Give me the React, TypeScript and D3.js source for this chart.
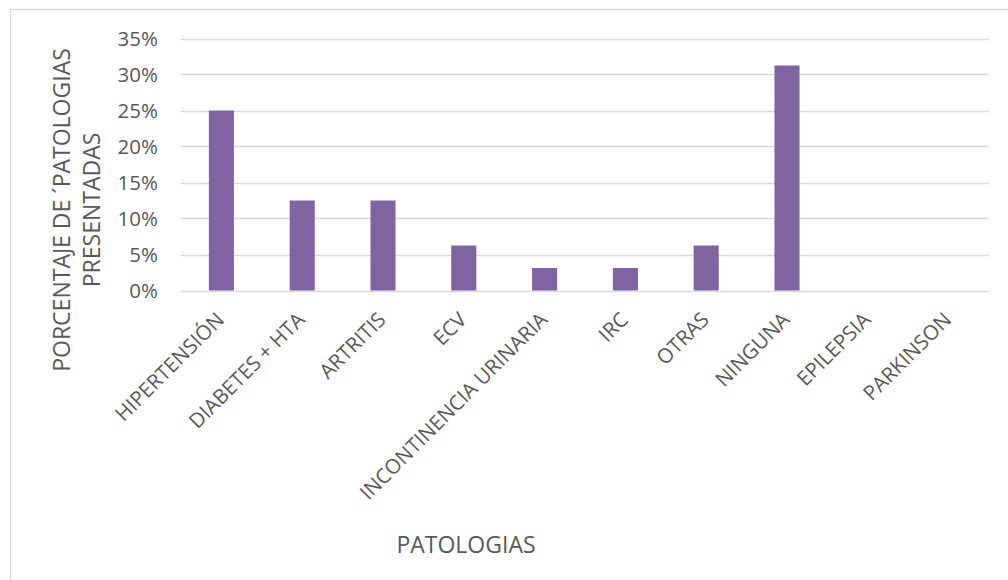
import React, { useEffect, useRef } from "react";
import * as d3 from "d3";

const categories = [
  "HIPERTENSIÓN",
  "DIABETES + HTA",
  "ARTRITIS",
  "ECV",
  "INCONTINENCIA URINARIA",
  "IRC",
  "OTRAS",
  "NINGUNA",
  "EPILEPSIA",
  "PARKINSON",
];
const values = [0.25, 0.125, 0.125, 0.0625, 0.03125, 0.03125, 0.0625, 0.3125, 0, 0];
const yTicks = [0, 0.05, 0.1, 0.15, 0.2, 0.25, 0.3, 0.35];
const yTitleLines = ["PORCENTAJE DE ´PATOLOGIAS", "PRESENTADAS"];
const xTitle = "PATOLOGIAS";

const W = 1008;
const H = 580;
const FONT = "'Open Sans', sans-serif";

export default function App() {
  const ref = useRef<SVGSVGElement>(null);

  useEffect(() => {
    const svg = d3.select(ref.current);
    svg.selectAll("*").remove();

    const x0 = 181, x1 = 989, yTop = 38.5, yBot = 290.5;
    const x = d3.scaleBand<string>().domain(categories).range([x0, x1]).paddingInner(0.69).paddingOuter(0.345);
    const y = d3.scaleLinear().domain([0, 0.35]).range([yBot, yTop]);

    svg.append("rect").attr("width", W).attr("height", H).attr("fill", "#fff");
    svg.append("rect")
      .attr("x", 10.5).attr("y", 9.5).attr("width", 1010).attr("height", 600)
      .attr("fill", "none").attr("stroke", "#d9d9d9").attr("stroke-width", 1.2);

    // gridlines
    svg.append("g").selectAll("line").data(yTicks).join("line")
      .attr("x1", x0).attr("x2", x1)
      .attr("y1", d => Math.round(y(d)) + 0.5).attr("y2", d => Math.round(y(d)) + 0.5)
      .attr("stroke", "#d9d9d9").attr("stroke-width", 1.3);

    // tick labels
    svg.append("g").selectAll("text").data(yTicks).join("text")
      .attr("x", 158).attr("y", d => y(d)).attr("dy", "0.35em")
      .attr("text-anchor", "end")
      .attr("font-family", FONT).attr("font-size", 20.5).attr("fill", "#595959")
      .text(d => d3.format(".0%")(d));

    // bars
    svg.append("g").selectAll("rect").data(values).join("rect")
      .attr("x", (_, i) => x(categories[i])!)
      .attr("width", x.bandwidth())
      .attr("y", d => y(d))
      .attr("height", d => yBot - y(d))
      .attr("fill", "#8064a2");

    // x labels
    svg.append("g").selectAll("text").data(categories).join("text")
      .attr("transform", d => `translate(${x(d)! + x.bandwidth() / 2 + 4},${321}) rotate(-45)`)
      .attr("text-anchor", "end")
      .attr("font-family", FONT).attr("font-size", 20.5).attr("fill", "#595959")
      .text(d => d);

    // y title
    const yt = svg.append("text")
      .attr("transform", `translate(62,210) rotate(-90)`)
      .attr("text-anchor", "middle")
      .attr("font-family", FONT).attr("font-size", 23).attr("fill", "#595959");
    yTitleLines.forEach((l, i) => {
      yt.append("tspan").attr("x", 0).attr("y", i * 30).attr("dy", "0.35em").text(l);
    });

    // x title
    svg.append("text")
      .attr("x", 466).attr("y", 545).attr("dy", "0.35em")
      .attr("text-anchor", "middle")
      .attr("font-family", FONT).attr("font-size", 23).attr("fill", "#595959")
      .text(xTitle);
  }, []);

  return (
    <svg ref={ref} width={W} height={H} style={{ position: "absolute", left: 0, top: 0, display: "block" }} />
  );
}
